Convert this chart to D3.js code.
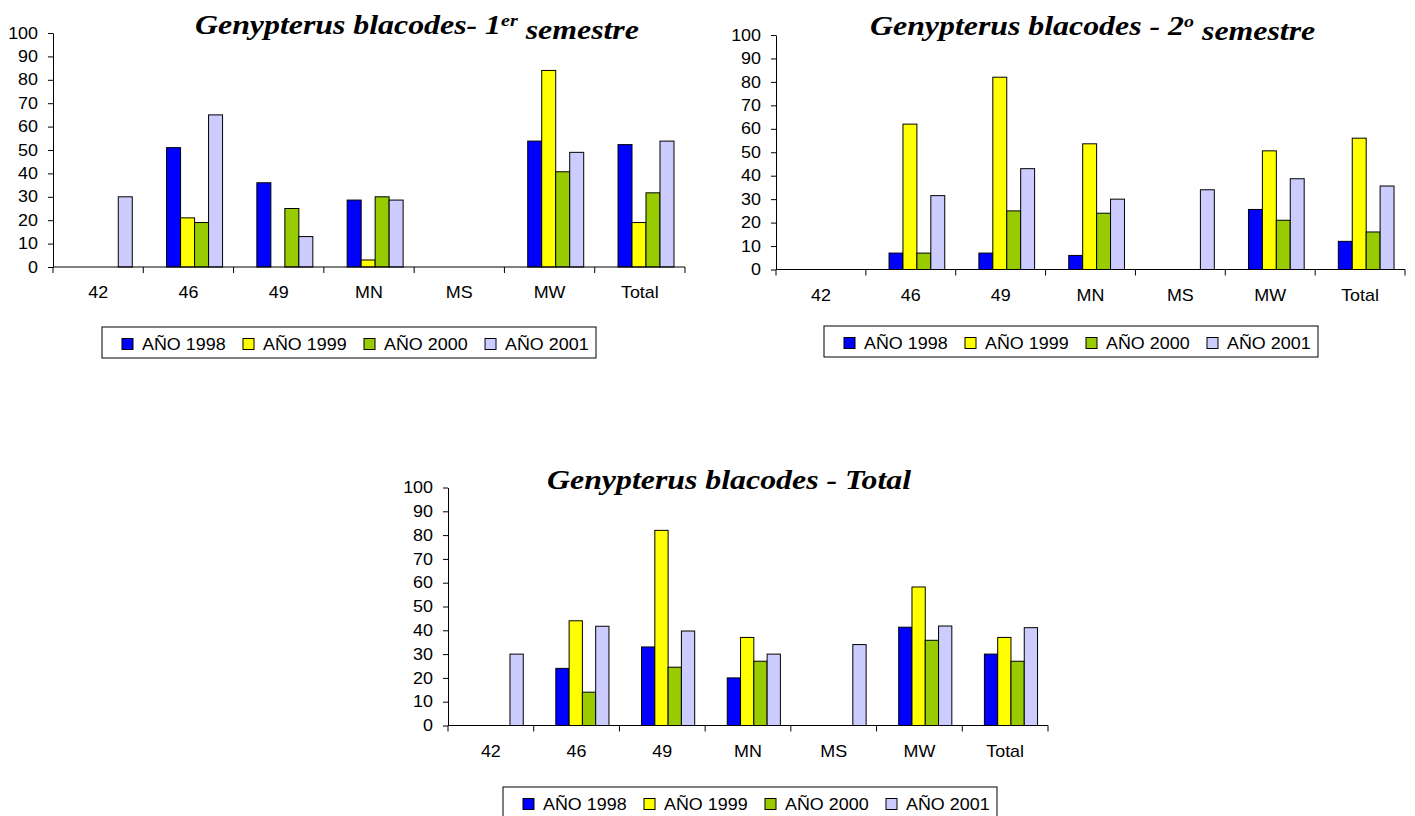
<!DOCTYPE html>
<html lang="es">
<head>
<meta charset="UTF-8">
<title>Genypterus blacodes</title>
<script src="https://d3js.org/d3.v7.min.js"></script>
<style>
  body { margin: 0; background: #fff; }
  svg { display: block; }
  text { font-family: "Liberation Sans", Arial, sans-serif; fill: #000; }
  .title { font-family: "Liberation Serif", "Times New Roman", serif; font-weight: bold; font-style: italic; }
</style>
</head>
<body>
<div id="chart"></div>
<script>
// categories and series
const categories = ["42", "46", "49", "MN", "MS", "MW", "Total"];
const series = ["AÑO 1998", "AÑO 1999", "AÑO 2000", "AÑO 2001"];
const colors = ["#0000ff", "#ffff00", "#99cc00", "#ccccff"];
const yTicks = [0, 10, 20, 30, 40, 50, 60, 70, 80, 90, 100];

// 1er semestre (null = no bar)
const sem1_1998 = [null, 51, 36, 28.6, null, 53.8, 52.3];
const sem1_1999 = [null, 21, null, 3, null, 84, 19];
const sem1_2000 = [null, 19, 25, 30, null, 40.7, 31.7];
const sem1_2001 = [30, 65, 13, 28.6, null, 49, 53.8];

// 2o semestre
const sem2_1998 = [null, 7, 7, 6, null, 25.6, 12];
const sem2_1999 = [null, 62, 82, 53.6, null, 50.6, 56];
const sem2_2000 = [null, 7, 25, 24, null, 21, 16];
const sem2_2001 = [null, 31.5, 43, 30, 34, 38.7, 35.6];

// total
const tot_1998 = [null, 24, 33, 20, null, 41.3, 30];
const tot_1999 = [null, 44, 82, 37, null, 58.2, 37];
const tot_2000 = [null, 14, 24.5, 27, null, 35.8, 27];
const tot_2001 = [30, 41.7, 39.7, 30, 34, 41.8, 41.1];

const W = 1415, H = 816;
const sx = 1.12;      // horizontal stretch of the original picture text
const titleSx = 1.18;

const svg = d3.select("#chart").append("svg")
    .attr("width", W).attr("height", H);

function drawChart(cfg) {
    const g = svg.append("g");

    const x = d3.scaleBand().domain(categories).range([cfg.x0, cfg.x1]);
    const y = d3.scaleLinear().domain([0, 100]).range([cfg.yBase, cfg.yTop]);
    const bw = x.bandwidth();
    // bars sit a bit right of the band centre, as in the original
    const inner = d3.scaleBand().domain(series)
        .range([bw * 0.258, bw * 0.258 + bw * 0.155 * 4]);

    // bars
    cfg.values.forEach((vals, si) => {
        g.append("g").selectAll("rect")
            .data(vals.map((v, i) => ({ cat: categories[i], v })).filter(d => d.v != null))
            .join("rect")
            .attr("x", d => x(d.cat) + inner(series[si]))
            .attr("y", d => y(d.v))
            .attr("width", inner.bandwidth())
            .attr("height", d => y(0) - y(d.v))
            .attr("fill", colors[si])
            .attr("stroke", "#000")
            .attr("stroke-width", 1);
    });

    // y axis
    const ya = g.append("g")
        .attr("transform", `translate(${cfg.x0},0)`)
        .call(d3.axisLeft(y).tickValues(yTicks).tickSize(5).tickSizeOuter(0).tickPadding(10));
    ya.selectAll("text")
        .attr("x", -15 / sx)
        .attr("transform", `scale(${sx},1)`)
        .style("font-size", "16px");
    ya.selectAll("path, line").attr("stroke", "#000");

    // x axis: line, boundary ticks, centred labels
    g.append("line")
        .attr("x1", cfg.x0).attr("x2", cfg.x1)
        .attr("y1", y(0)).attr("y2", y(0))
        .attr("stroke", "#000");
    const bounds = categories.map(c => x(c)).concat([cfg.x1]);
    g.append("g").selectAll("line")
        .data(bounds)
        .join("line")
        .attr("x1", d => d).attr("x2", d => d)
        .attr("y1", y(0)).attr("y2", y(0) + 6)
        .attr("stroke", "#000");
    g.append("g").selectAll("text")
        .data(categories)
        .join("text")
        .attr("transform", d => `translate(${x(d) + bw / 2},${y(0) + 31}) scale(${sx},1)`)
        .attr("text-anchor", "middle")
        .style("font-size", "16px")
        .text(d => d);

    // title
    const t = g.append("text")
        .attr("class", "title")
        .attr("transform", `translate(${cfg.titleX},${cfg.titleY}) scale(${titleSx},1)`)
        .style("font-size", "27px");
    t.append("tspan").text(cfg.title[0]);
    if (cfg.title[1]) {
        t.append("tspan").attr("dy", "-0.45em").style("font-size", "17px").text(cfg.title[1]);
        t.append("tspan").attr("dy", "0.45em").text(cfg.title[2]);
    }

    // legend
    const lg = g.append("g").attr("transform", `translate(${cfg.legX},${cfg.legY})`);
    lg.append("rect")
        .attr("width", 494).attr("height", 31)
        .attr("fill", "#fff").attr("stroke", "#000");
    const item = lg.selectAll("g.item")
        .data(series)
        .join("g")
        .attr("class", "item")
        .attr("transform", (d, i) => `translate(${20 + i * 121},0)`);
    item.append("rect")
        .attr("y", 11.5).attr("width", 11).attr("height", 11)
        .attr("fill", (d, i) => colors[i]).attr("stroke", "#000");
    item.append("text")
        .attr("transform", `translate(20,22.5) scale(${sx},1)`)
        .style("font-size", "16px")
        .text(d => d);
}

drawChart({
    x0: 53, x1: 685, yTop: 33, yBase: 267,
    values: [sem1_1998, sem1_1999, sem1_2000, sem1_2001],
    title: ["Genypterus blacodes- 1", "er", " semestre"],
    titleX: 195, titleY: 34,
    legX: 102, legY: 327
});

drawChart({
    x0: 776, x1: 1405, yTop: 35, yBase: 269.5,
    values: [sem2_1998, sem2_1999, sem2_2000, sem2_2001],
    title: ["Genypterus blacodes - 2", "o", " semestre"],
    titleX: 870, titleY: 35,
    legX: 824, legY: 326
});

drawChart({
    x0: 448, x1: 1048, yTop: 487.5, yBase: 725.5,
    values: [tot_1998, tot_1999, tot_2000, tot_2001],
    title: ["Genypterus blacodes - Total"],
    titleX: 547, titleY: 489,
    legX: 503, legY: 787
});
</script>
</body>
</html>
